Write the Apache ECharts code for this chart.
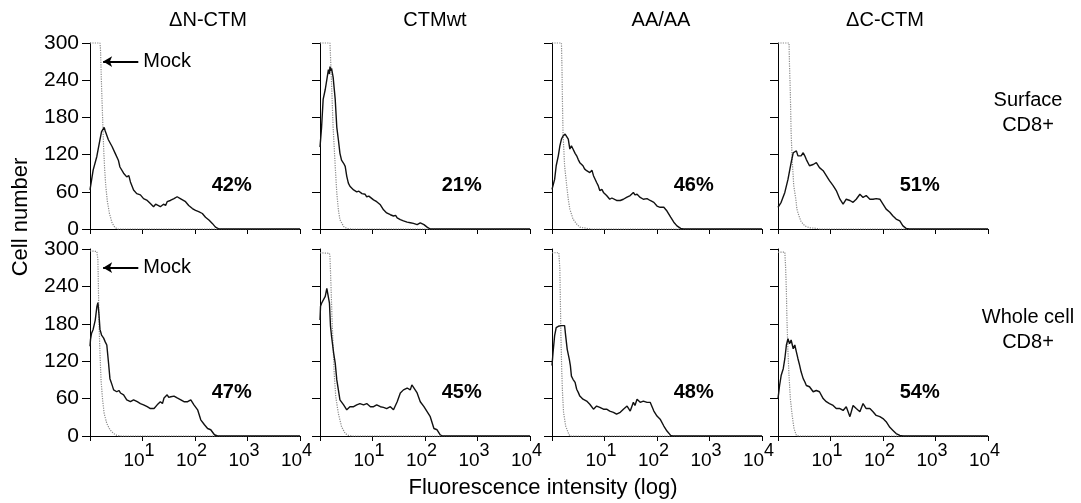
<!DOCTYPE html>
<html>
<head>
<meta charset="utf-8">
<script src="https://cdn.jsdelivr.net/npm/echarts@6/dist/echarts.min.js"></script>
<style>html,body{margin:0;padding:0;background:#fff}#c{width:1081px;height:503px}</style>
</head>
<body>
<div id="c"></div>
<script>
// ---------- data (x = log10 fluorescence intensity, y = cell number) ----------
const columnTitles = ['\u0394N-CTM', 'CTMwt', 'AA/AA', '\u0394C-CTM'];
const rowLabels = ['Surface\nCD8+', 'Whole cell\nCD8+'];
const yTicks = [0, 60, 120, 180, 240, 300];
const xExponents = ['', '1', '2', '3', '4'];
const pctSurface = [42, 21, 46, 51];
const pctWhole = [47, 45, 48, 54];

// Surface CD8+ row (mock peaks are off scale, drawn at the 300 ceiling)
const nctmSurface = [[0,63],[0.06,95],[0.13,117],[0.19,144],[0.22,157],[0.27,164],[0.29,158],[0.31,160],[0.35,144],[0.42,133],[0.48,122],[0.54,111],[0.57,100],[0.6,102],[0.64,90],[0.7,84],[0.74,86],[0.77,76],[0.83,63],[0.86,66],[0.89,57],[0.96,55],[1.02,49],[1.09,46],[1.15,41],[1.21,36],[1.25,40],[1.28,38],[1.34,36],[1.4,40],[1.44,38],[1.47,44],[1.53,46],[1.6,49],[1.63,47],[1.66,52],[1.69,55],[1.72,49],[1.75,51],[1.82,44],[1.88,38],[1.95,33],[2.01,30],[2.04,31],[2.07,28],[2.14,25],[2.2,19],[2.27,14],[2.33,9],[2.39,3],[2.46,0],[4,0]];
const nctmSurfaceMock = [[0,300],[0.19,300],[0.2,290],[0.22,230],[0.24,180],[0.26,130],[0.28,95],[0.3,70],[0.33,45],[0.37,25],[0.42,10],[0.47,3],[0.52,0],[4,0]];
const wtSurface = [[0,132],[0.03,164],[0.06,209],[0.1,225],[0.13,241],[0.16,257],[0.18,250],[0.19,262],[0.21,255],[0.22,259],[0.25,245],[0.29,209],[0.32,164],[0.35,144],[0.38,122],[0.41,111],[0.45,106],[0.48,101],[0.51,85],[0.54,74],[0.57,69],[0.6,66],[0.64,63],[0.67,64],[0.7,60],[0.74,61],[0.76,58],[0.8,57],[0.83,55],[0.86,56],[0.89,52],[0.93,53],[0.96,50],[1.02,47],[1.05,48],[1.08,44],[1.15,39],[1.21,31],[1.27,26],[1.3,27],[1.34,23],[1.4,21],[1.44,22],[1.47,18],[1.53,15],[1.56,16],[1.59,13],[1.66,11],[1.72,10],[1.78,9],[1.85,7],[1.91,10],[1.94,11],[1.98,7],[2.04,3],[2.1,0],[4,0]];
const wtSurfaceMock = [[0,300],[0.19,300],[0.22,235],[0.25,164],[0.29,101],[0.32,58],[0.35,31],[0.38,15],[0.45,4],[0.51,1],[0.6,0],[4,0]];
const aaSurface = [[0,64],[0.05,80],[0.08,102],[0.12,118],[0.15,134],[0.18,145],[0.21,150],[0.25,153],[0.28,153],[0.31,145],[0.34,129],[0.37,134],[0.4,129],[0.44,122],[0.47,118],[0.5,112],[0.53,107],[0.56,109],[0.59,102],[0.62,97],[0.66,94],[0.72,91],[0.76,95],[0.79,86],[0.85,75],[0.88,70],[0.91,62],[0.95,64],[0.98,59],[1.04,54],[1.1,48],[1.14,50],[1.17,48],[1.23,46],[1.3,46],[1.36,48],[1.42,51],[1.49,54],[1.55,59],[1.58,55],[1.62,56],[1.68,51],[1.74,48],[1.81,49],[1.87,46],[1.94,43],[2.0,37],[2.03,39],[2.06,35],[2.13,35],[2.19,29],[2.26,19],[2.32,11],[2.38,5],[2.45,1],[2.5,0],[4,0]];
const aaSurfaceMock = [[0,300],[0.18,300],[0.19,260],[0.2,200],[0.21,155],[0.24,102],[0.28,70],[0.31,48],[0.34,32],[0.4,16],[0.47,8],[0.53,3],[0.66,1],[0.75,0],[4,0]];
const cctmSurface = [[0,35],[0.06,43],[0.13,59],[0.19,80],[0.25,107],[0.29,123],[0.32,120],[0.35,126],[0.38,118],[0.41,115],[0.44,118],[0.48,123],[0.51,118],[0.54,112],[0.6,102],[0.67,104],[0.73,107],[0.79,99],[0.86,94],[0.92,86],[0.98,78],[1.05,70],[1.11,62],[1.18,48],[1.24,40],[1.3,48],[1.37,46],[1.43,43],[1.49,48],[1.56,56],[1.62,51],[1.68,54],[1.75,48],[1.81,48],[1.87,49],[1.94,48],[2.0,40],[2.06,32],[2.13,27],[2.19,21],[2.25,16],[2.32,13],[2.38,5],[2.44,1],[2.5,0],[4,0]];
const cctmSurfaceMock = [[0,300],[0.21,300],[0.22,262],[0.235,219],[0.25,155],[0.27,112],[0.3,70],[0.34,48],[0.36,32],[0.4,21],[0.44,12],[0.51,5],[0.6,2],[0.73,1],[0.8,0],[4,0]];

// Whole cell CD8+ row
const nctmWhole = [[0,144],[0.01,155],[0.03,165],[0.06,171],[0.1,186],[0.13,207],[0.15,214],[0.17,196],[0.19,171],[0.22,162],[0.26,157],[0.29,151],[0.32,146],[0.35,120],[0.38,92],[0.42,82],[0.45,74],[0.48,76],[0.51,71],[0.55,73],[0.58,69],[0.64,66],[0.7,58],[0.77,55],[0.83,58],[0.9,55],[0.96,52],[1.02,50],[1.09,47],[1.15,44],[1.22,44],[1.28,50],[1.34,55],[1.38,52],[1.41,61],[1.47,66],[1.5,62],[1.54,63],[1.6,64],[1.66,61],[1.73,58],[1.79,55],[1.86,55],[1.92,58],[1.98,50],[2.05,42],[2.11,26],[2.18,18],[2.24,12],[2.3,10],[2.37,2],[2.43,0],[4,0]];
const nctmWholeMock = [[0,297],[0.13,296],[0.15,283],[0.16,240],[0.17,186],[0.19,133],[0.21,90],[0.24,58],[0.27,36],[0.32,20],[0.38,10],[0.45,4],[0.51,1],[0.6,0],[4,0]];
const wtWhole = [[0,186],[0.01,208],[0.03,213],[0.06,216],[0.1,224],[0.13,237],[0.16,234],[0.18,213],[0.2,176],[0.22,160],[0.26,133],[0.29,117],[0.32,90],[0.35,74],[0.38,58],[0.45,50],[0.51,42],[0.54,39],[0.57,47],[0.6,44],[0.64,47],[0.7,50],[0.73,47],[0.76,52],[0.83,50],[0.89,52],[0.96,47],[1.02,47],[1.08,50],[1.15,47],[1.21,46],[1.27,44],[1.34,47],[1.4,42],[1.47,55],[1.53,69],[1.59,74],[1.62,71],[1.66,77],[1.72,74],[1.75,82],[1.78,79],[1.85,69],[1.91,55],[1.98,47],[2.04,39],[2.1,31],[2.17,12],[2.23,10],[2.29,2],[2.33,0],[4,0]];
const wtWholeMock = [[0,294],[0.18,293],[0.19,288],[0.21,240],[0.23,186],[0.25,144],[0.27,101],[0.3,63],[0.35,36],[0.41,15],[0.48,4],[0.54,1],[0.62,0],[4,0]];
const aaWhole = [[0,113],[0.02,134],[0.05,161],[0.08,174],[0.12,176],[0.15,174],[0.18,177],[0.21,174],[0.24,177],[0.26,161],[0.29,139],[0.33,123],[0.35,113],[0.37,96],[0.4,91],[0.44,86],[0.47,75],[0.5,70],[0.53,64],[0.59,59],[0.66,56],[0.72,51],[0.79,43],[0.85,48],[0.91,46],[0.98,43],[1.04,43],[1.1,40],[1.17,38],[1.23,35],[1.3,38],[1.36,43],[1.43,48],[1.49,40],[1.55,54],[1.58,49],[1.62,59],[1.68,54],[1.74,56],[1.81,54],[1.87,54],[1.94,40],[2.0,32],[2.06,27],[2.13,16],[2.19,8],[2.26,1],[2.3,0],[4,0]];
const aaWholeMock = [[0,294],[0.13,294],[0.15,268],[0.16,214],[0.17,161],[0.185,107],[0.2,70],[0.22,38],[0.26,16],[0.31,5],[0.34,0],[4,0]];
const cctmWhole = [[0,60],[0.03,81],[0.06,97],[0.1,108],[0.13,124],[0.16,146],[0.19,156],[0.22,148],[0.25,154],[0.29,140],[0.32,146],[0.35,135],[0.38,124],[0.41,114],[0.44,103],[0.48,92],[0.51,87],[0.54,81],[0.57,84],[0.6,79],[0.63,76],[0.67,71],[0.73,73],[0.79,71],[0.86,60],[0.92,55],[0.98,52],[1.05,49],[1.11,44],[1.18,44],[1.24,41],[1.3,47],[1.37,31],[1.43,49],[1.49,44],[1.56,39],[1.62,52],[1.68,44],[1.75,44],[1.81,39],[1.87,33],[1.94,31],[2.0,28],[2.06,23],[2.13,14],[2.19,9],[2.25,4],[2.32,1],[2.38,0],[4,0]];
const cctmWholeMock = [[0,295],[0.13,295],[0.146,269],[0.16,231],[0.17,188],[0.19,135],[0.21,97],[0.235,60],[0.27,33],[0.305,12],[0.35,1],[0.4,0],[4,0]];

const sampleCurves = [[nctmSurface, wtSurface, aaSurface, cctmSurface], [nctmWhole, wtWhole, aaWhole, cctmWhole]];
const mockCurves = [[nctmSurfaceMock, wtSurfaceMock, aaSurfaceMock, cctmSurfaceMock], [nctmWholeMock, wtWholeMock, aaWholeMock, cctmWholeMock]];
const percents = [pctSurface, pctWhole];
const pctPosition = [2.7, 70];
const mockArrow = { from: 0.92, to: 0.25, y: 270 };

// ---------- layout ----------
const FONT = 'Liberation Sans, Arial, Helvetica, sans-serif';
const colLeft = [90, 320, 552, 778];
const colWidth = 210;
const rowTop = [43, 249];
const rowHeight = [186, 187];
const INK = '#000';

const grids = [], xAxes = [], yAxes = [], series = [];
for (let r = 0; r < 2; r++) {
  for (let c = 0; c < 4; c++) {
    const idx = grids.length;
    grids.push({ left: colLeft[c], top: rowTop[r], width: colWidth, height: rowHeight[r] });
    xAxes.push({
      gridIndex: idx, type: 'value', min: 0, max: 4, interval: 1,
      axisLine: { show: true, onZero: false, lineStyle: { color: INK, width: 1 } },
      axisTick: { show: true, length: 5, lineStyle: { color: INK } },
      splitLine: { show: false },
      axisLabel: {
        show: r === 1, margin: 6, padding: [0, 7, 0, 0],
        formatter: v => xExponents[v] ? '{b|10}{s|' + xExponents[v] + '}' : '',
        rich: {
          b: { fontSize: 19, fontFamily: FONT, color: INK, padding: [9, 0, 0, 0], verticalAlign: 'bottom' },
          s: { fontSize: 18, fontFamily: FONT, color: INK, verticalAlign: 'top' }
        }
      }
    });
    yAxes.push({
      gridIndex: idx, type: 'value', min: 0, max: 300, interval: 60,
      axisLine: { show: true, lineStyle: { color: INK, width: 1 } },
      axisTick: { show: true, length: 8, lineStyle: { color: INK } },
      splitLine: { show: false },
      axisLabel: { show: c === 0, margin: 11, fontSize: 21, fontFamily: FONT, color: INK }
    });
    const mockSeries = {
      type: 'line', xAxisIndex: idx, yAxisIndex: idx, data: mockCurves[r][c],
      showSymbol: false, symbol: 'none', clip: false, z: 2,
      lineStyle: { color: '#8a8a8a', width: 1.2, type: 'dotted' }
    };
    if (c === 0) {
      mockSeries.markLine = {
        silent: true, animation: false,
        symbol: ['none', 'arrow'], symbolSize: [8, 9],
        lineStyle: { color: INK, width: 2, type: 'solid' },
        label: { show: true, position: 'start', distance: 5, formatter: 'Mock', fontSize: 20, fontFamily: FONT, color: INK },
        data: [[{ coord: [mockArrow.from, mockArrow.y] }, { coord: [mockArrow.to, mockArrow.y] }]]
      };
    }
    series.push(mockSeries);
    series.push({
      type: 'line', xAxisIndex: idx, yAxisIndex: idx, data: sampleCurves[r][c],
      showSymbol: false, symbol: 'none', clip: true, z: 3,
      lineStyle: { color: '#111', width: 1.4 }
    });
    series.push({
      type: 'scatter', xAxisIndex: idx, yAxisIndex: idx, symbolSize: 0, z: 4,
      itemStyle: { opacity: 1 },
      data: [[pctPosition[0], pctPosition[1], percents[r][c]]],
      label: { show: true, position: 'inside', formatter: p => p.value[2] + '%', fontSize: 20, fontWeight: 'bold', fontFamily: FONT, color: INK, opacity: 1 }
    });
  }
}

const titleCenters = [208, 435, 661, 885];
const graphic = [];
columnTitles.forEach((t, i) => graphic.push({ type: 'text', x: titleCenters[i], y: 20, style: { text: t, fontSize: 20, fontFamily: FONT, fill: INK, align: 'center', verticalAlign: 'middle' } }));
const rowLabelCenters = [113, 330];
rowLabels.forEach((t, i) => graphic.push({ type: 'text', x: 1028, y: rowLabelCenters[i], style: { text: t, fontSize: 20, lineHeight: 25, fontFamily: FONT, fill: INK, align: 'center', verticalAlign: 'middle' } }));
graphic.push({ type: 'text', x: 543, y: 488, style: { text: 'Fluorescence intensity (log)', fontSize: 22, fontFamily: FONT, fill: INK, align: 'center', verticalAlign: 'middle' } });
graphic.push({ type: 'text', x: 21, y: 217, rotation: Math.PI / 2, style: { text: 'Cell number', fontSize: 22, fontFamily: FONT, fill: INK, align: 'center', verticalAlign: 'middle' } });

const chart = echarts.init(document.getElementById('c'), null, { renderer: 'canvas' });
chart.setOption({
  animation: false,
  backgroundColor: '#fff',
  grid: grids, xAxis: xAxes, yAxis: yAxes, series: series, graphic: graphic
});
</script>
</body>
</html>
